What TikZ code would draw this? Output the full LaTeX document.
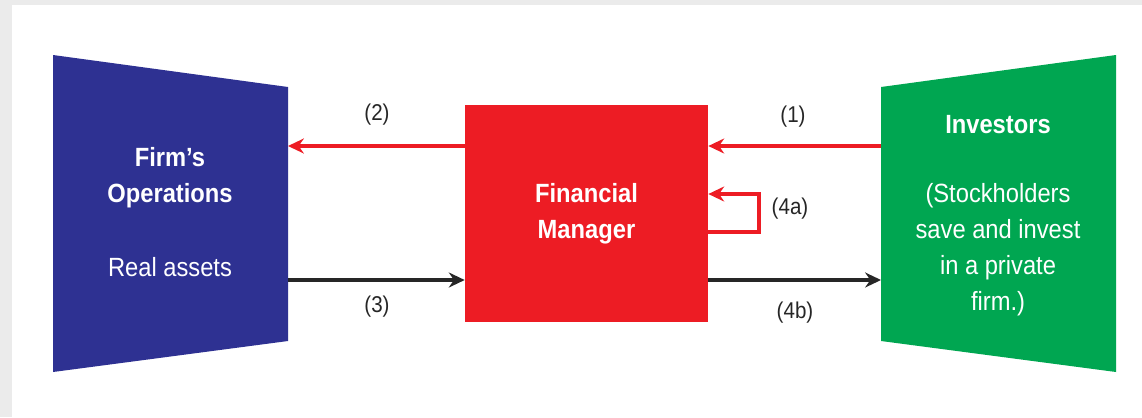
\documentclass[tikz,border=0pt]{standalone}
\usepackage{fontspec}
\setmainfont[FakeStretch=0.9]{Liberation Sans}
\usetikzlibrary{arrows.meta,positioning}
\definecolor{opsblue}{HTML}{2E3192}
\definecolor{fmred}{HTML}{ED1C24}
\definecolor{invgreen}{HTML}{00A651}
\definecolor{pagegray}{HTML}{EBEBEB}
\tikzset{
  boxtext/.style={text=white,font=\fontsize{15}{20.5}\selectfont,align=center},
  steplabel/.style={font=\fontsize{13}{15}\selectfont,text=black!85},
  flow/.style={line width=2pt,-{Stealth[length=9pt,width=8.5pt]}},
}
\begin{document}
\begin{tikzpicture}[x=0.02cm,y=-0.02cm]
                \fill[pagegray] (0,0) rectangle (1142,417);
                \fill[white] (12,5) rectangle (1142,417);
                %% firm's operations
                \fill[opsblue] (53,55) -- (288,87) -- (288,341) -- (53,372) -- cycle;
                \coordinate (firmR) at (288,213);
                \node[boxtext] (firmtitle) at (170,178) {\bfseries Firm's\\\bfseries Operations};
                \node[boxtext] (firmsub) at (170,267) {Real assets};
                %% financial manager
                \node[fill=fmred,draw=none,inner sep=0pt,
                      minimum width=4.86cm,minimum height=4.34cm] (fm) at (586.5,213.5) {};
                \node[boxtext] (fmtext) at (fm) {\bfseries Financial\\\bfseries Manager};
                %% investors
                \fill[invgreen] (881,87) -- (1116,55) -- (1116,372) -- (881,341) -- cycle;
                \coordinate (invL) at (881,213);
                \node[boxtext] (invtitle) at (998,125) {\bfseries Investors};
                \node[boxtext] (invsub) at (998,250) {(Stockholders\\save and invest\\in a private\\firm.)};
                %% flows
                \draw[flow,fmred] (invL |- 0,146) -- (fm.east |- 0,146);
                \draw[flow,fmred] (fm.west |- 0,146) -- (firmR |- 0,146);
                \draw[flow,black!85] (firmR |- 0,280) -- (fm.west |- 0,280);
                \draw[flow,black!85] (fm.east |- 0,280) -- (invL |- 0,280);
                \draw[flow,fmred] (fm.east |- 0,232) -| (759,194) -- (fm.east |- 0,194);
                %% step labels
                \node[steplabel] (l1) at (793,117) {(1)};
                \node[steplabel] (l2) at (377,115) {(2)};
                \node[steplabel] (l3) at (377,307) {(3)};
                \node[steplabel] (l4a) at (790,209) {(4a)};
                \node[steplabel] (l4b) at (795,313) {(4b)};
\end{tikzpicture}
\end{document}
